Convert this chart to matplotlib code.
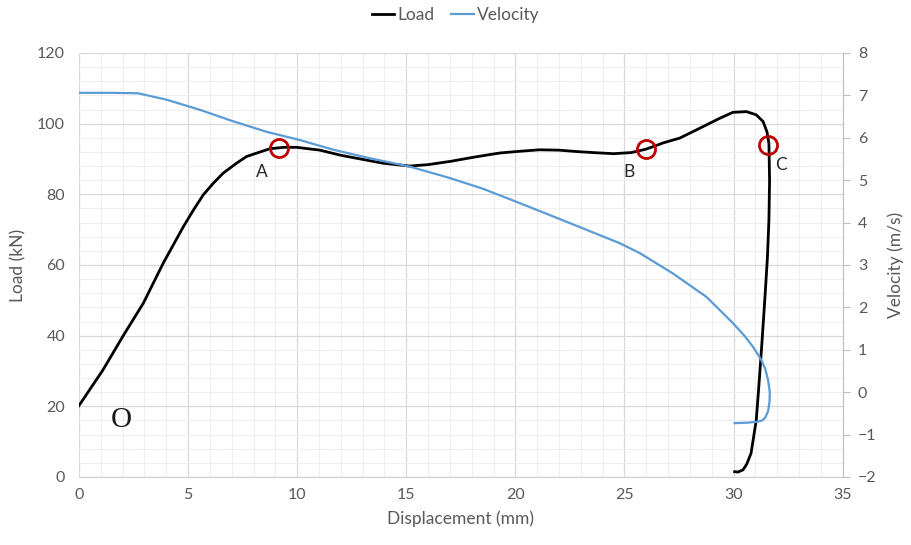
import matplotlib
matplotlib.use("Agg")
import matplotlib.pyplot as plt
from matplotlib.ticker import MultipleLocator

plt.rcParams['font.family'] = ['Lato', 'DejaVu Sans']

# Load curve (kN) vs displacement (mm)
load_x = [0.0, 1.1, 2.0, 2.95, 3.86, 4.78, 5.25, 5.69, 6.15, 6.61, 7.22, 7.68, 8.21,
          8.75, 9.4, 9.97, 11.04, 11.96, 12.9, 13.94, 15.16, 16.0, 17.0, 18.0,
          18.68, 19.3, 20.05, 21.1, 22.0, 22.8, 23.6, 24.5, 25.3, 26.0, 26.8,
          27.53, 28.45, 29.36, 29.97, 30.59, 31.04, 31.35, 31.53, 31.62, 31.65,
          31.62, 31.55, 31.45, 31.3, 31.15, 31.04, 30.8, 30.6, 30.43, 30.2, 30.05]
load_y = [20.2, 30.3, 39.7, 49.2, 60.5, 70.8, 75.6, 79.8, 83.1, 86.0, 88.8, 90.7, 91.8,
          92.9, 93.3, 93.3, 92.5, 91.1, 90.0, 88.8, 88.0, 88.4, 89.3, 90.4,
          91.1, 91.7, 92.1, 92.6, 92.5, 92.1, 91.8, 91.5, 91.8, 92.8, 94.6,
          95.9, 98.7, 101.5, 103.2, 103.4, 102.5, 100.6, 97.7, 94.4, 84.0,
          72.7, 62.0, 52.0, 38.0, 25.0, 16.1, 6.7, 3.6, 2.0, 1.4, 1.5]

# Velocity curve (m/s) vs displacement (mm)
vel_x = [0.0, 1.5, 2.7, 4.0, 5.54, 7.0, 8.6, 10.1, 11.65, 13.3, 15.16, 17.0,
         18.5, 20.05, 22.34, 24.8, 25.7, 27.22, 28.75, 29.97, 30.5, 30.89, 31.27,
         31.45, 31.58, 31.66, 31.65, 31.58, 31.45, 31.3, 31.04, 30.6, 30.05]
vel_y = [7.06, 7.06, 7.05, 6.9, 6.66, 6.4, 6.14, 5.95, 5.72, 5.52, 5.32, 5.05,
         4.8, 4.49, 4.02, 3.51, 3.28, 2.80, 2.25, 1.63, 1.33, 1.07, 0.76,
         0.55, 0.29, 0.0, -0.22, -0.45, -0.6, -0.67, -0.70, -0.72, -0.73]

# Marked points
pts_label = ['A', 'B', 'C']
pts_x = [9.16, 26.0, 31.58]
pts_y = [93.1, 92.8, 94.0]

fig = plt.figure(figsize=(9.11, 5.45), dpi=100)
ax = fig.add_axes([0.0867, 0.1248, 0.8383, 0.778])
ax2 = ax.twinx()

gray_txt = '#595959'

ax.set_xlim(0, 35)
ax.set_ylim(0, 120)
ax2.set_ylim(-2, 8)

ax.xaxis.set_major_locator(MultipleLocator(5))
ax.xaxis.set_minor_locator(MultipleLocator(1))
ax.yaxis.set_major_locator(MultipleLocator(20))
ax.yaxis.set_minor_locator(MultipleLocator(4))
ax2.yaxis.set_major_locator(MultipleLocator(1))

ax.grid(which='major', color='#d9d9d9', linewidth=0.9)
ax.grid(which='minor', color='#efefef', linewidth=0.8)
ax.set_axisbelow(True)

for s in ['top', 'left']:
    ax.spines[s].set_visible(False)
    ax2.spines[s].set_visible(False)
ax.spines['right'].set_visible(False)
ax.spines['bottom'].set_color('#d0d0d0')
ax2.spines['bottom'].set_visible(False)
ax2.spines['right'].set_color('#bfbfbf')

ax.tick_params(axis='both', which='both', length=0, colors=gray_txt, labelsize=11.5, pad=8)
ax.tick_params(axis='y', pad=10)
ax2.tick_params(axis='y', length=5, color='#bfbfbf', labelcolor=gray_txt, labelsize=11.5, pad=6)

l1, = ax.plot(load_x, load_y, color='black', linewidth=2.0, label='Load', zorder=3,
              solid_joinstyle='round')
l2, = ax2.plot(vel_x, vel_y, color='#5B9BD5', linewidth=1.6, label='Velocity', zorder=2,
               solid_joinstyle='round')

ax.plot(pts_x, pts_y, linestyle='none', marker='o', markersize=13,
        markerfacecolor='none', markeredgecolor='#C00000', markeredgewidth=2.0, zorder=4)
offs = [(-0.8, -6.8), (-0.8, -6.5), (0.6, -5.7)]
for lab, x, y, (dx, dy) in zip(pts_label, pts_x, pts_y, offs):
    ax.text(x + dx, y + dy, lab, fontsize=12.5, color='#262626', ha='center', va='center')

ax.text(1.92, 16.0, 'O', fontsize=21, family='Liberation Serif', color='#1a1a1a',
        ha='center', va='center')

ax.set_xlabel('Displacement (mm)', fontsize=12.5, color=gray_txt, labelpad=6)
ax.set_ylabel('Load (kN)', fontsize=12.5, color=gray_txt, labelpad=8)
ax2.set_ylabel('Velocity (m/s)', fontsize=12.5, color=gray_txt, labelpad=8)

fig.legend(handles=[l1, l2], loc='center', bbox_to_anchor=(0.5, 0.972), ncol=2,
           frameon=False, fontsize=12.5, handlelength=1.3, handletextpad=0.15,
           columnspacing=1.0, labelcolor=gray_txt)

fig.savefig('out.png', dpi=100)
